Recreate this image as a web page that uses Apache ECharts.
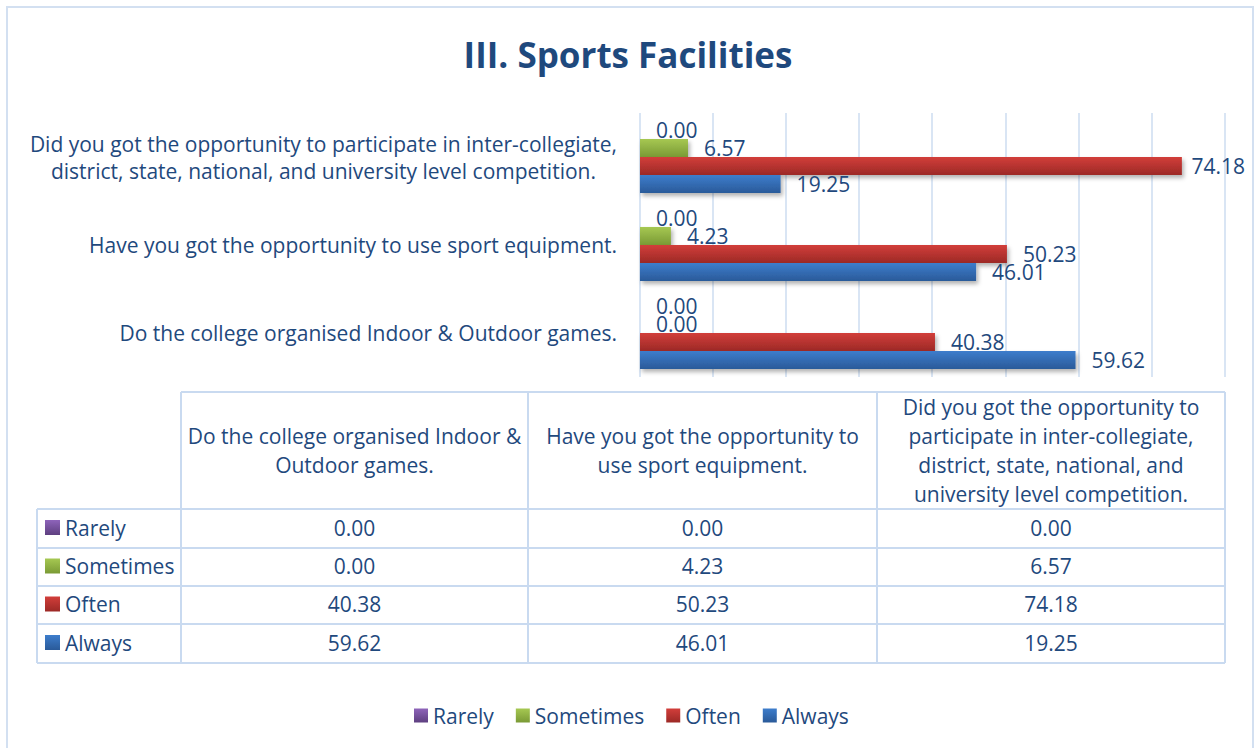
<!DOCTYPE html>
<html><head><meta charset="utf-8">
<script src="https://cdn.jsdelivr.net/npm/echarts@6/dist/echarts.min.js"></script>
<style>html,body{margin:0;padding:0;background:#fff}#c{width:1256px;height:748px}</style>
</head><body><div id="c"></div>
<script>
// ---- data ----
const categories = [
  "Do the college organised Indoor & Outdoor games.",
  "Have you got the opportunity to use sport equipment.",
  "Did you got the opportunity to participate in inter-collegiate, district, state, national, and university level competition."
];
const seriesNames = ["Rarely", "Sometimes", "Often", "Always"];
const rarely    = [0.00, 0.00, 0.00];
const sometimes = [0.00, 4.23, 6.57];
const often     = [40.38, 50.23, 74.18];
const always    = [59.62, 46.01, 19.25];
const xMin = 0, xMax = 80, xInterval = 10;

// ---- styles ----
const FONT = '"Open Sans", "Liberation Sans", sans-serif';
const TXT = '#1F497D';
const GRIDC = '#CCDCF0';
const BORDER = '#C9DAF0';
const gradStops = {
  Rarely:    ['#8E64BA', '#5E3F80'],
  Sometimes: ['#A6C852', '#7A9A35'],
  Often:     ['#D23E3A', '#9C2926'],
  Always:    ['#3D7DCC', '#2A5A99']
};
const grad = n => new echarts.graphic.LinearGradient(0, 0, 0, 1, [
  {offset: 0, color: gradStops[n][0]}, {offset: 1, color: gradStops[n][1]}]);
const values = {Rarely: rarely, Sometimes: sometimes, Often: often, Always: always};

const FS = 21;
const mctx = document.createElement('canvas').getContext('2d');
function wrap(text, size, maxW) {
  mctx.font = size + 'px ' + FONT;
  const words = text.split(' ');
  const lines = []; let cur = '';
  for (const w of words) {
    const t = cur ? cur + ' ' + w : w;
    if (mctx.measureText(t).width > maxW && cur) { lines.push(cur); cur = w; }
    else cur = t;
  }
  if (cur) lines.push(cur);
  return lines;
}

// ---- table geometry ----
const colX = [37, 181, 528, 877, 1225];
const headTop = 392;
const rowY = [509, 548, 586, 624, 663];
const graphics = [];
graphics.push({type: 'rect', silent: true, shape: {x: 7, y: 7, width: 1246, height: 780},
  style: {fill: 'none', stroke: '#D3E0F1', lineWidth: 2}});
const line = (x1, y1, x2, y2) => graphics.push({type: 'line', silent: true,
  shape: {x1, y1, x2, y2}, style: {stroke: BORDER, lineWidth: 2}});
line(colX[1], headTop, colX[4], headTop);
rowY.forEach(y => line(colX[0], y, colX[4], y));
line(colX[0], rowY[0], colX[0], rowY[4]);
for (let i = 1; i < colX.length; i++) line(colX[i], headTop, colX[i], rowY[4]);
const text = (t, x, y, align, extra) => graphics.push(Object.assign({type: 'text', silent: true,
  style: Object.assign({text: t, x, y, fill: TXT, fontSize: FS, fontFamily: FONT,
    align, textAlign: align, verticalAlign: 'middle', textVerticalAlign: 'middle'}, extra || {})}));
// header
categories.forEach((c, i) => {
  const cx = (colX[i + 1] + colX[i + 2]) / 2;
  const lines = wrap(c, FS, colX[i + 2] - colX[i + 1] - 8);
  const lh = 29, cy = (headTop + rowY[0]) / 2;
  lines.forEach((l, k) => text(l, cx, cy + (k - (lines.length - 1) / 2) * lh, 'center'));
});
// rows
seriesNames.forEach((n, r) => {
  const cy = (rowY[r] + rowY[r + 1]) / 2 - 1;
  graphics.push({type: 'rect', silent: true, shape: {x: 45, y: cy - 7.5, width: 15, height: 15},
    style: {fill: grad(n)}});
  text(n, 65, cy, 'left');
  values[n].forEach((v, i) => text(v.toFixed(2), (colX[i + 1] + colX[i + 2]) / 2, cy, 'center'));
});

const chart = echarts.init(document.getElementById('c'), null, {renderer: 'svg'});
chart.setOption({
  animation: false,
  title: {text: 'III. Sports Facilities', left: 'center', top: 32,
    textStyle: {fontSize: 35, fontWeight: 'bold', color: TXT, fontFamily: FONT}},
  legend: {data: seriesNames, top: 700, left: 409, icon: 'rect', itemWidth: 14, itemHeight: 14,
    itemGap: 22, textStyle: {fontSize: FS, color: TXT, fontFamily: FONT}},
  grid: {left: 640, right: 31.6, top: 113, bottom: 371, containLabel: false},
  xAxis: {type: 'value', min: xMin, max: xMax, interval: xInterval,
    axisLabel: {show: false}, axisLine: {show: false}, axisTick: {show: false},
    splitLine: {lineStyle: {color: GRIDC, width: 1.5}}},
  yAxis: {type: 'category', data: categories, axisLine: {show: false}, axisTick: {show: false},
    axisLabel: {margin: 23, align: 'right',
      formatter: v => wrap(v, FS, 600).map(l => '{c|' + l + '}').join('\n'),
      rich: {c: {align: 'center', fontSize: FS, fontFamily: FONT, color: TXT, lineHeight: 27}}}},
  series: seriesNames.map(n => ({
    name: n, type: 'bar', data: values[n], barGap: '0%', barCategoryGap: '18%',
    itemStyle: {color: grad(n), shadowBlur: 4, shadowOffsetX: 2, shadowOffsetY: 3,
      shadowColor: 'rgba(0,0,0,0.3)'},
    label: {show: true, position: 'right', distance: 16, formatter: p => p.value.toFixed(2),
      fontSize: FS, fontFamily: FONT, color: TXT},
    labelLayout: p => {
      const r = p.labelRect;
      if (r.x + r.width > 1245) return {x: 1245 - r.width, y: r.y, align: 'left', verticalAlign: 'top'};
      return {};
    }
  })),
  graphic: graphics
});
</script></body></html>
